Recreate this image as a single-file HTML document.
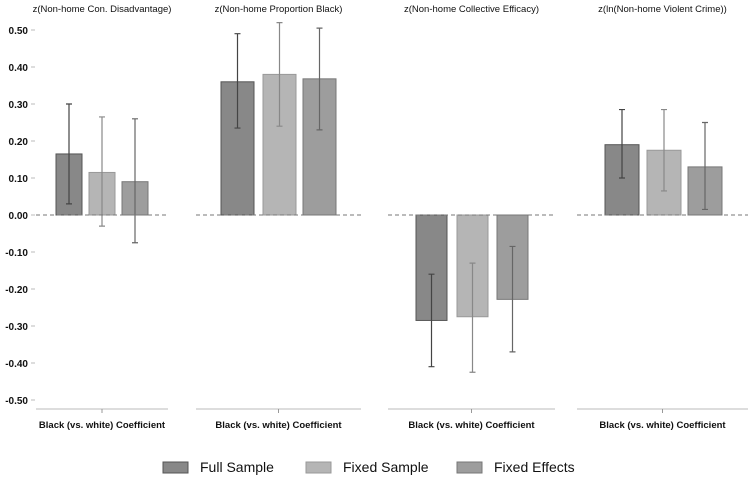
<!DOCTYPE html>
<html><head><meta charset="utf-8"><style>
body{margin:0;background:#fff;font-family:"Liberation Sans",Arial,sans-serif}
svg text{font-family:"Liberation Sans",Arial,sans-serif;fill:#111}
</style></head><body>
<svg id="chart" width="750" height="479" xmlns="http://www.w3.org/2000/svg"></svg>
<script>
const panelTitles=["z(Non-home Con. Disadvantage)","z(Non-home Proportion Black)","z(Non-home Collective Efficacy)","z(ln(Non-home Violent Crime))"];
const seriesNames=["Full Sample","Fixed Sample","Fixed Effects"];
const fullVals=[0.165,0.36,-0.285,0.19];
const fullLo=[0.03,0.235,-0.41,0.10];
const fullHi=[0.30,0.49,-0.16,0.285];
const fixedVals=[0.115,0.38,-0.275,0.175];
const fixedLo=[-0.03,0.24,-0.425,0.065];
const fixedHi=[0.265,0.52,-0.13,0.285];
const feVals=[0.09,0.368,-0.228,0.13];
const feLo=[-0.075,0.23,-0.37,0.015];
const feHi=[0.26,0.505,-0.085,0.25];
const yTicks=[0.5,0.4,0.3,0.2,0.1,0,-0.1,-0.2,-0.3,-0.4,-0.5];

const svg=document.getElementById('chart');
const NS="http://www.w3.org/2000/svg";
function mk(tag,attrs,parent){const e=document.createElementNS(NS,tag);for(const k in attrs)e.setAttribute(k,attrs[k]);(parent||svg).appendChild(e);return e;}
const y=v=>215-v*370;
const panels=[{x0:36,x1:168,bx:[56,89,122],bw:26},{x0:196,x1:361,bx:[221,263,303],bw:33},{x0:388,x1:555,bx:[416,457,497],bw:31},{x0:577,x1:748,bx:[605,647,688],bw:34}];
const fills=["#888","#b5b5b5","#9d9d9d"],strokes=["#555","#999","#777"],ebc=["#444","#888","#666"];
const series=[[fullVals,fullLo,fullHi],[fixedVals,fixedLo,fixedHi],[feVals,feLo,feHi]];

// y ticks
yTicks.forEach(t=>{
  const tx=mk('text',{x:28,y:y(t)+4,'text-anchor':'end','font-size':10,'font-weight':'bold'});
  
  
  tx.textContent=t.toFixed(2);
  const l=mk('line',{x1:31,x2:35,y1:y(t),y2:y(t),stroke:'#bbb'});
  
  
});

panels.forEach((p,i)=>{
  const g=mk('g',{});
  
  
  const t=mk('text',{x:(p.x0+p.x1)/2,y:12,'text-anchor':'middle','font-size':9.5},g);
  
  
  t.textContent=panelTitles[i];
  series.forEach((s,j)=>{
    const v=s[0][i],lo=s[1][i],hi=s[2][i];
    const bx=p.bx[j],bw=p.bw;
    const r=mk('rect',{x:bx,y:Math.min(y(v),y(0)),width:bw,height:Math.abs(y(v)-y(0)),fill:fills[j],stroke:strokes[j],'stroke-width':1},g);
    
    
    const cx=bx+bw/2;
    const e=mk('path',{d:`M${cx},${y(hi)}V${y(lo)}M${cx-3},${y(hi)}H${cx+3}M${cx-3},${y(lo)}H${cx+3}`,stroke:ebc[j],'stroke-width':1.2,fill:'none'},g);
    
    
  });
  const z=mk('line',{x1:p.x0,x2:p.x1,y1:y(0),y2:y(0),stroke:'#777','stroke-dasharray':'4,3','stroke-width':1},g);
  
  
  const ax=mk('line',{x1:p.x0,x2:p.x1,y1:409,y2:409,stroke:'#bbb'},g);
  
  
  const mx=(p.x0+p.x1)/2;
  mk('line',{x1:mx,x2:mx,y1:409,y2:413,stroke:'#999'},g);
  const xl=mk('text',{x:mx,y:428,'text-anchor':'middle','font-size':9.5,'font-weight':'bold'},g);
  
  
  xl.textContent="Black (vs. white) Coefficient";
});

const legX=[163,306,457];
seriesNames.forEach((n,j)=>{
  const g=mk('g',{});
  
  
  mk('rect',{x:legX[j],y:462,width:25,height:11,fill:fills[j],stroke:strokes[j]},g);
  const t=mk('text',{x:legX[j]+37,y:472,'font-size':14},g);
  t.textContent=n;
});
</script>
</body></html>
